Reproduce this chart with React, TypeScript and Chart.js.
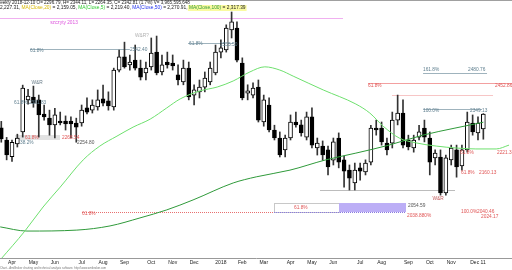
import React, { useEffect, useRef } from "react";
import { Chart, registerables } from "chart.js";

Chart.register(...registerables);

// week index (0 = week ending 2017-04-07), weekly WIG20-like candles
const weekIndex = [
  -2, -1, 0, 1, 2, 3, 4, 5, 6, 7,
  8, 9, 10, 11, 12, 13, 14, 15, 16, 17,
  18, 19, 20, 21, 22, 23, 24, 25, 26, 27,
  28, 29, 30, 31, 32, 33, 34, 35, 36, 37,
  38, 39, 40, 41, 42, 43, 44, 45, 46, 47,
  48, 49, 50, 51, 52, 53, 54, 55, 56, 57,
  58, 59, 60, 61, 62, 63, 64, 65, 66, 67,
  68, 69, 70, 71, 72, 73, 74, 75, 76, 77,
  78, 79, 80, 81, 82, 83, 84, 85, 86, 87,
  88,
];
const opens = [
  2300, 2262, 2210, 2250, 2287, 2387, 2396, 2387, 2343, 2330,
  2309, 2321, 2321, 2321, 2315, 2315, 2362, 2355, 2365, 2390,
  2384, 2365, 2480, 2521, 2496, 2511, 2486, 2471, 2490, 2536,
  2474, 2505, 2502, 2465, 2443, 2486, 2402, 2412, 2427, 2443,
  2471, 2536, 2543, 2605, 2611, 2502, 2408, 2402, 2427, 2318,
  2371, 2293, 2268, 2231, 2268, 2318, 2309, 2271, 2334, 2237,
  2243, 2231, 2199, 2268, 2200, 2168, 2128, 2175, 2162, 2193,
  2299, 2299, 2252, 2252, 2324, 2346, 2262, 2237, 2271, 2299,
  2268, 2206, 2209, 2097, 2200, 2231, 2181, 2231, 2315, 2284,
  2296.79,
];
const highs = [
  2320, 2270, 2262, 2280, 2433, 2420, 2430, 2402, 2371, 2355,
  2361, 2349, 2337, 2334, 2330, 2371, 2393, 2387, 2418, 2433,
  2412, 2486, 2542, 2567, 2527, 2558, 2511, 2505, 2580, 2586,
  2527, 2536, 2527, 2496, 2511, 2505, 2434, 2449, 2474, 2505,
  2558, 2574, 2621, 2661, 2630, 2518, 2434, 2440, 2449, 2402,
  2393, 2308, 2287, 2277, 2340, 2349, 2324, 2349, 2362, 2268,
  2259, 2243, 2268, 2284, 2212, 2184, 2190, 2190, 2200, 2308,
  2324, 2318, 2268, 2349, 2402, 2387, 2277, 2277, 2308, 2324,
  2287, 2231, 2231, 2215, 2246, 2246, 2246, 2349, 2340, 2334,
  2344.11,
];
const lows = [
  2255, 2200, 2195, 2240, 2271, 2374, 2364, 2271, 2324, 2277,
  2268, 2309, 2293, 2268, 2255, 2305, 2343, 2346, 2355, 2368,
  2355, 2355, 2474, 2486, 2480, 2480, 2449, 2449, 2480, 2465,
  2465, 2486, 2480, 2434, 2434, 2387, 2371, 2393, 2412, 2434,
  2465, 2518, 2536, 2580, 2505, 2387, 2387, 2393, 2318, 2305,
  2287, 2262, 2209, 2209, 2262, 2302, 2274, 2262, 2237, 2215,
  2199, 2153, 2184, 2175, 2115, 2106, 2106, 2137, 2153, 2184,
  2277, 2246, 2215, 2237, 2309, 2237, 2231, 2224, 2262, 2256,
  2153, 2184, 2090, 2090, 2184, 2146, 2168, 2224, 2277, 2262,
  2264.35,
];
const closes = [
  2265, 2215, 2255, 2268, 2424, 2399, 2377, 2340, 2334, 2309,
  2340, 2315, 2312, 2312, 2302, 2355, 2349, 2371, 2387, 2377,
  2368, 2480, 2521, 2490, 2505, 2486, 2458, 2486, 2533, 2471,
  2496, 2496, 2493, 2449, 2486, 2396, 2418, 2427, 2455, 2486,
  2536, 2549, 2611, 2630, 2511, 2393, 2415, 2424, 2324, 2387,
  2293, 2268, 2215, 2268, 2318, 2309, 2284, 2334, 2246, 2252,
  2215, 2178, 2256, 2193, 2165, 2143, 2168, 2165, 2190, 2299,
  2293, 2256, 2231, 2324, 2346, 2246, 2240, 2262, 2287, 2271,
  2193, 2221, 2097, 2206, 2237, 2178, 2231, 2318, 2287, 2315,
  2342.81,
];

// moving averages
const maFastIdx = [-2.2, 2.4, 5.8, 9.0, 13.3, 16.4, 19.6, 22.6, 25.8, 28.9, 31.4, 35.1, 38.3, 41.3, 44.4, 47.2, 50.0, 52.5, 58.1, 64.2, 66.8, 69.3, 72.3, 75.4, 79.2, 82.9, 86.6, 90.4, 92.8];
const maFastVals = [1888, 1978, 2053, 2115, 2200, 2243, 2274, 2302, 2327, 2362, 2390, 2415, 2427, 2446, 2474, 2490, 2480, 2461, 2418, 2374, 2346, 2305, 2268, 2253, 2243, 2237, 2234, 2234, 2246];
const maSlowIdx = [-2.2, 2.8, 12.1, 18.3, 23.9, 28.9, 33.8, 41.3, 45.6, 51.9, 58.6, 64.2, 70.4, 76.7, 82.7, 88];
const maSlowVals = [1991, 1978, 1981, 1994, 2019, 2044, 2075, 2128, 2147, 2168, 2200, 2221, 2246, 2277, 2299, 2317.39];

const monthTickIdx = [0, 4, 8, 13, 17, 21, 26, 30, 34, 39, 43, 47, 52, 56, 60, 65, 69, 74, 78, 82, 87];
const monthTickLabels = ["Apr", "May", "Jun", "Jul", "Aug", "Sep", "Oct", "Nov", "Dec", "2018", "Feb", "Mar", "Apr", "May", "Jun", "Jul", "Aug", "Sep", "Oct", "Nov", "Dec 11"];

const GB = "#5f7f8f";
const GBL = "#9fb3bd";
const RED = "#e05555";

// [from, to, level, color, dashed]
const levelLines: [number, number, number, string, boolean][] = [
  [-2.24, 61.8, 2642, "#f0b0f0", false],
  [3.36, 22.0, 2546, GBL, false],
  [32.86, 41.26, 2564, GBL, false],
  [76.74, 88.69, 2472, GBL, false],
  [66.47, 93.35, 2440, "#f3a0a0", false],
  [70.95, 89.81, 2402, "#f7c6c6", false],
  [76.74, 87.75, 2358, GBL, false],
  [57.5, 82.71, 2106, "#bcbcbc", false],
  [13.07, 48.92, 2037, "#e87070", true],
  [48.92, 73.56, 2037, "#8878e0", true],
];
// [from, to, top, bottom, fill, stroke]
const boxes: [number, number, number, number, string, string | null][] = [
  [0.56, 8.96, 2277.5, 2261.9, "#e2e2e2", null],
  [48.92, 61.05, 2065.4, 2037.4, "#ffffff", "#c8c8c8"],
  [61.05, 73.56, 2065.4, 2037.4, "#bcaef6", null],
];
// [text, at, level, color, align]
const labels: [string, number, number, string, CanvasTextAlign][] = [
  ["szczyty 2013", 9.71, 2626.7, "#dd55dd", "center"],
  ["61.8%", 3.36, 2539.4, GB, "left"],
  ["2542.40", 22.03, 2542.5, GB, "left"],
  ["W&R?", 24.27, 2586.2, "#b0b0b0", "center"],
  ["61.8%", 33.05, 2561.2, GB, "left"],
  ["2555.50", 38.84, 2558.1, GB, "left"],
  ["W&R", 4.67, 2439.6, "#687c88", "center"],
  ["61.8% 2381.83", 0.37, 2377.2, GB, "left"],
  ["61.8%", 2.43, 2268.1, RED, "left"],
  ["2268.54", 9.34, 2268.1, RED, "left"],
  ["38.2%", 1.49, 2252.5, GB, "left"],
  ["2254.80", 12.14, 2252.5, "#555555", "left"],
  ["161.8%", 76.74, 2480.1, GB, "left"],
  ["2480.76", 85.14, 2480.1, GB, "left"],
  ["61.8%", 66.47, 2430.3, RED, "left"],
  ["2452.86", 90.18, 2430.3, RED, "left"],
  ["100.0%", 76.74, 2352.3, GB, "left"],
  ["2349.13", 85.51, 2352.3, GB, "left"],
  ["61.8%", 83.65, 2221.3, RED, "left"],
  ["2221.32", 90.55, 2221.3, RED, "left"],
  ["61.8%", 83.83, 2159.0, RED, "left"],
  ["2160.13", 87.19, 2159.0, RED, "left"],
  ["W&R", 79.54, 2078, "#c05a5a", "center"],
  ["61.8%", 52.65, 2051.5, RED, "left"],
  ["2054.59", 73.94, 2056.1, "#555555", "left"],
  ["61.8%", 13.07, 2031.1, RED, "left"],
  ["2038.880%", 73.75, 2024.9, RED, "left"],
  ["100.0%", 83.83, 2037.4, RED, "left"],
  ["2040.46", 86.82, 2037.4, RED, "left"],
  ["2024.17", 87.57, 2021.8, RED, "left"],
];

const titleLine1 = [{ t: "Weekly 2018-12-10 O= 2296.79, H= 2344.11, L= 2264.35, C= 2342.81 (1.7%) V= 3,965,595,648", c: "#222" }];
const titleLine2 = [
  { t: "2,227.31, ", c: "#222" },
  { t: "MA(Close,20)", c: "#d8b800" },
  { t: " = 2,159.05, ", c: "#222" },
  { t: "MA(Close,5)", c: "#33cc33" },
  { t: " = 2,219.40, ", c: "#222" },
  { t: "MA(Close,50)", c: "#2233ee" },
  { t: " = 2,270.91, ", c: "#222" },
  { t: "MA(Close,100)", c: "#2f9a3a" },
  { t: " = 2,317.39", c: "#222" },
];
const footerText = "Chart - AmiBroker charting and technical analysis software. http://www.amibroker.com";

const FONT = "'Liberation Sans', Arial, sans-serif";

function fitSegments(ctx: CanvasRenderingContext2D, segs: { t: string; c: string }[], width: number) {
  ctx.font = `10px ${FONT}`;
  const total = segs.reduce((s, g) => s + ctx.measureText(g.t).width, 0);
  return (10 * width) / total;
}

const annotPlugin = {
  id: "annot",
  beforeDatasetsDraw(chart: any) {
    const { ctx } = chart;
    const x = chart.scales.x;
    const y = chart.scales.y;
    ctx.save();
    for (const [a, b, top, bot, fill, stroke] of boxes) {
      const x0 = x.getPixelForValue(a), x1 = x.getPixelForValue(b);
      const y0 = y.getPixelForValue(top), y1 = y.getPixelForValue(bot);
      ctx.fillStyle = fill;
      ctx.fillRect(x0, y0, x1 - x0, y1 - y0);
      if (stroke) {
        ctx.strokeStyle = stroke;
        ctx.lineWidth = 1;
        ctx.strokeRect(Math.round(x0) + 0.5, Math.round(y0) + 0.5, Math.round(x1 - x0), Math.round(y1 - y0));
      }
    }
    for (const [a, b, lvl, color, dashed] of levelLines) {
      const yy = Math.round(y.getPixelForValue(lvl)) + 0.5;
      ctx.strokeStyle = color;
      ctx.lineWidth = 1;
      ctx.setLineDash(dashed ? [1, 1] : []);
      ctx.beginPath();
      ctx.moveTo(x.getPixelForValue(a), yy);
      ctx.lineTo(x.getPixelForValue(b), yy);
      ctx.stroke();
    }
    ctx.restore();
  },
  afterDatasetsDraw(chart: any) {
    const { ctx } = chart;
    const x = chart.scales.x;
    const y = chart.scales.y;
    ctx.save();
    ctx.font = `4.8px ${FONT}`;
    ctx.textBaseline = "middle";
    for (const [t, at, lvl, color, align] of labels) {
      ctx.fillStyle = color;
      ctx.textAlign = align;
      ctx.fillText(t, x.getPixelForValue(at), y.getPixelForValue(lvl));
    }
    ctx.restore();
  },
  afterDraw(chart: any) {
    const { ctx } = chart;
    ctx.save();
    ctx.strokeStyle = "#a0a0a0";
    ctx.lineWidth = 1;
    ctx.beginPath();
    ctx.moveTo(0, 0.5);
    ctx.lineTo(512, 0.5);
    ctx.stroke();
    ctx.textBaseline = "middle";
    ctx.textAlign = "left";
    // line 1
    const s1 = fitSegments(ctx, titleLine1, 194);
    ctx.font = `${s1}px ${FONT}`;
    let cx = -4;
    for (const g of titleLine1) {
      ctx.fillStyle = g.c;
      ctx.fillText(g.t, cx, 2.8);
      cx += ctx.measureText(g.t).width;
    }
    // line 2 with highlight
    const s2 = fitSegments(ctx, titleLine2, 246);
    ctx.font = `${s2}px ${FONT}`;
    cx = 0;
    const starts: number[] = [];
    for (const g of titleLine2) {
      starts.push(cx);
      cx += ctx.measureText(g.t).width;
    }
    ctx.fillStyle = "#fafaa0";
    ctx.fillRect(starts[7] - 1, 5, cx - starts[7] + 2, 6);
    titleLine2.forEach((g, k) => {
      ctx.fillStyle = g.c;
      ctx.fillText(g.t, starts[k], 8);
    });
    // footer
    const s3 = fitSegments(ctx, [{ t: footerText, c: "" }], 107);
    ctx.font = `${s3}px ${FONT}`;
    ctx.fillStyle = "#777";
    ctx.fillText(footerText, 0, 268);
    ctx.restore();
  },
};

export default function App() {
  const ref = useRef<HTMLCanvasElement | null>(null);
  useEffect(() => {
    if (!ref.current) return;
    const bodyColors = weekIndex.map((_, k) => (closes[k] >= opens[k] ? "#ffffff" : "#000000"));
    const chart = new Chart(ref.current, {
      type: "bar",
      data: {
        datasets: [
          {
            type: "bar",
            label: "wicks",
            data: weekIndex.map((w, k) => ({ x: w, y: [lows[k], highs[k]] })) as any,
            backgroundColor: "#333333",
            barThickness: 1,
            grouped: false,
            order: 2,
          } as any,
          {
            type: "bar",
            label: "bodies",
            data: weekIndex.map((w, k) => ({ x: w, y: [opens[k], closes[k]] })) as any,
            backgroundColor: bodyColors,
            borderColor: "#000000",
            borderWidth: 1,
            borderSkipped: false,
            barThickness: 4,
            grouped: false,
            order: 1,
          } as any,
          {
            type: "line",
            label: "MA fast",
            data: maFastIdx.map((v, k) => ({ x: v, y: maFastVals[k] })) as any,
            borderColor: "#6ee06e",
            borderWidth: 1,
            pointRadius: 0,
            cubicInterpolationMode: "monotone",
            order: 0,
          } as any,
          {
            type: "line",
            label: "MA100",
            data: maSlowIdx.map((v, k) => ({ x: v, y: maSlowVals[k] })) as any,
            borderColor: "#2f9a3a",
            borderWidth: 1,
            pointRadius: 0,
            cubicInterpolationMode: "monotone",
            order: 0,
          } as any,
        ],
      },
      options: {
        animation: false,
        responsive: false,
        devicePixelRatio: 1,
        layout: { padding: 0 },
        plugins: { legend: { display: false }, tooltip: { enabled: false }, title: { display: false } },
        scales: {
          x: {
            type: "linear",
            min: -2.24,
            max: 93.35,
            offset: false,
            grid: { display: false, drawTicks: false },
            border: { display: true, color: "#999999" },
            ticks: {
              autoSkip: false,
              maxRotation: 0,
              minRotation: 0,
              padding: 2,
              color: "#222222",
              font: { size: 5, family: FONT },
              callback: (_v: any, idx: number) => monthTickLabels[idx] ?? "",
            },
            afterBuildTicks: (axis: any) => {
              axis.ticks = monthTickIdx.map((v) => ({ value: v }));
            },
            afterFit: (axis: any) => {
              axis.height = 12;
            },
          } as any,
          y: { type: "linear", display: false, min: 1894, max: 2698.4, beginAtZero: false },
        },
      } as any,
      plugins: [annotPlugin],
    });
    return () => chart.destroy();
  }, []);
  return (
    <div style={{ position: "fixed", left: 0, top: 0, width: 512, height: 270, background: "#fff" }}>
      <canvas ref={ref} width={512} height={270} style={{ width: 512, height: 270, display: "block" }} />
    </div>
  );
}
